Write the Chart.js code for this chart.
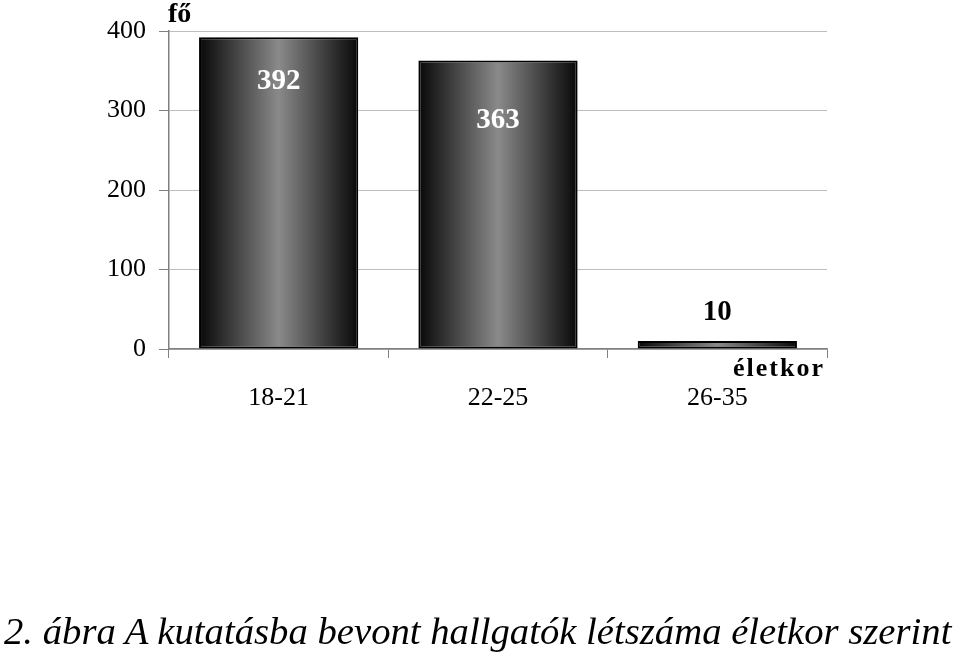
<!DOCTYPE html>
<html><head><meta charset="utf-8">
<script src="https://cdn.jsdelivr.net/npm/chart.js@4.4.0/dist/chart.umd.min.js"></script>
<style>
html,body{margin:0;padding:0;background:#fff;}
#wrap{position:relative;width:960px;height:659px;}
#caption{position:absolute;left:4px;top:609px;font-family:"Liberation Serif","Times New Roman",serif;font-style:italic;font-size:38.7px;color:#000;white-space:nowrap;}
</style></head>
<body>
<div id="wrap"><canvas id="c" width="960" height="659"></canvas>
<div id="caption">2. ábra A kutatásba bevont hallgatók létszáma életkor szerint</div></div>
<script>
const categories = ["18-21", "22-25", "26-35"];
const values = [392, 363, 10];
const yTicks = [0, 100, 200, 300, 400];
const yTitle = "fő";
const xTitle = "életkor";

const serif = '"Liberation Serif","Times New Roman",serif';

function barGradient(ctx) {
  const chart = ctx.chart;
  const xs = chart.scales.x;
  if (!xs || !chart.chartArea) return '#555';
  const cx = xs.getPixelForValue(ctx.dataIndex);
  const w = (chart.chartArea.right - chart.chartArea.left) / categories.length * 0.726;
  const g = chart.ctx.createLinearGradient(cx - w/2, 0, cx + w/2, 0);
  g.addColorStop(0, '#080808');
  g.addColorStop(0.15, '#2e2e2e');
  g.addColorStop(0.5, '#8a8a8a');
  g.addColorStop(0.85, '#2e2e2e');
  g.addColorStop(1, '#080808');
  return g;
}

const labelPlugin = {
  id: 'labels',
  afterDatasetsDraw(chart, args, opts) {
    const ctx = chart.ctx;
    const meta = chart.getDatasetMeta(0);
    ctx.save();
    ctx.font = 'bold 29px ' + serif;
    ctx.textAlign = 'center';
    ctx.textBaseline = 'middle';
    meta.data.forEach((bar, i) => {
      const off = opts.offsets[i];
      ctx.fillStyle = off > 0 ? '#ffffff' : '#000000';
      ctx.fillText(String(values[i]), bar.x, bar.y + off);
    });
    ctx.fillStyle = '#000';
    ctx.font = 'bold 28px ' + serif;
    ctx.textAlign = 'left';
    ctx.textBaseline = 'middle';
    ctx.fillText(yTitle, chart.chartArea.left - 1, 15);
    ctx.textAlign = 'right';
    ctx.font = 'bold 26px ' + serif;
    if ('letterSpacing' in ctx) ctx.letterSpacing = '2px';
    ctx.fillText(xTitle, chart.chartArea.right - 2, chart.chartArea.bottom + 20);
    ctx.restore();
  }
};

new Chart(document.getElementById('c'), {
  type: 'bar',
  data: {
    labels: categories,
    datasets: [{
      data: values,
      backgroundColor: barGradient,
      borderColor: '#000',
      borderWidth: 2,
      borderSkipped: false,
      categoryPercentage: 1,
      barPercentage: 0.726
    }]
  },
  options: {
    responsive: false,
    animation: false,
    devicePixelRatio: 1,
    layout: { padding: { left: 0, top: 31, right: 133, bottom: 0 } },
    plugins: {
      legend: { display: false },
      tooltip: { enabled: false },
      labels: { offsets: [44, 60, -29] }
    },
    scales: {
      y: {
        min: 0, max: 400,
        afterFit(s) { s.width = 169; },
        afterBuildTicks(s) { s.ticks = yTicks.map(v => ({ value: v })); },
        ticks: { color: '#000', font: { family: serif, size: 26 }, padding: 13 },
        grid: { color: '#bdbdbd', tickColor: '#808080', tickLength: 10, lineWidth: 1 },
        border: { color: '#808080', width: 1.5 }
      },
      x: {
        afterFit(s) { s.height = 659 - 349; },
        offset: true,
        ticks: { color: '#000', font: { family: serif, size: 26 }, padding: 25 },
        grid: {
          offset: true,
          color: (c) => c.index === categories.length ? '#9a9a9a' : 'rgba(0,0,0,0)',
          tickColor: '#808080',
          tickLength: 9
        },
        border: { color: '#808080', width: 1.5 }
      }
    }
  },
  plugins: [labelPlugin]
});
</script>
</body></html>
